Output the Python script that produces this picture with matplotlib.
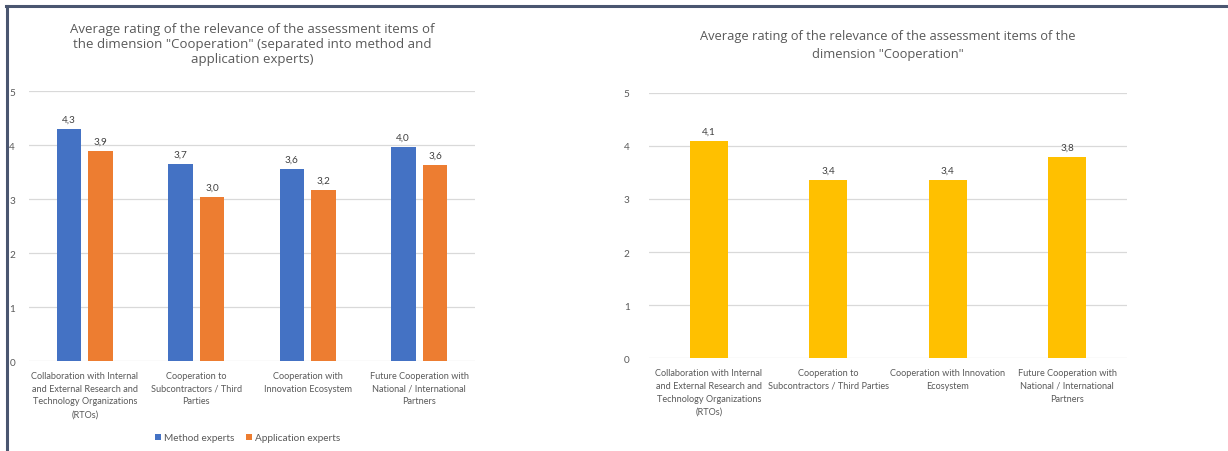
import matplotlib

matplotlib.use("Agg")
import matplotlib.pyplot as plt
import numpy as np
from matplotlib.lines import Line2D

plt.rcParams["font.family"] = ["Lato", "DejaVu Sans"]

# left chart data
left_title = ('Average rating of the relevance of the assessment items of\n'
              'the dimension "Cooperation" (separated into method and\n'
              'application experts)')
left_categories = [
    "Collaboration with Internal\nand External Research and\nTechnology Organizations\n(RTOs)",
    "Cooperation to\nSubcontractors / Third\nParties",
    "Cooperation with\nInnovation Ecosystem",
    "Future Cooperation with\nNational / International\nPartners",
]
method_experts = [4.30, 3.65, 3.56, 3.96]
application_experts = [3.89, 3.04, 3.17, 3.63]
method_labels = ["4,3", "3,7", "3,6", "4,0"]
application_labels = ["3,9", "3,0", "3,2", "3,6"]

# right chart data
right_title = ('Average rating of the relevance of the assessment items of the\n'
               'dimension "Cooperation"')
right_categories = [
    "Collaboration with Internal\nand External Research and\nTechnology Organizations\n(RTOs)",
    "Cooperation to\nSubcontractors / Third Parties",
    "Cooperation with Innovation\nEcosystem",
    "Future Cooperation with\nNational / International\nPartners",
]
overall = [4.09, 3.36, 3.36, 3.79]
overall_labels = ["4,1", "3,4", "3,4", "3,8"]

y_ticks = [0, 1, 2, 3, 4, 5]

BLUE = "#4472C4"
ORANGE = "#ED7D31"
YELLOW = "#FFC000"
GRID = "#D9D9D9"
TEXT = "#595959"
LABEL = "#404040"
TICK_FS = 6.6
TITLE_FONT = ["Open Sans", "DejaVu Sans"]


def _style_axes(ax, ypad):
    ax.set_ylim(0, 5)
    ax.set_xlim(-0.5, 3.5)
    ax.set_yticks(y_ticks)
    ax.yaxis.grid(True, color=GRID, linewidth=0.9)
    ax.set_axisbelow(True)
    for side in ("top", "right", "left", "bottom"):
        ax.spines[side].set_visible(False)
    ax.tick_params(axis="y", length=0, pad=ypad, labelsize=7.2, labelcolor=TEXT)
    ax.tick_params(axis="x", length=0, pad=7, labelsize=TICK_FS, labelcolor=TEXT)


def _bar_labels(ax, bars, labels):
    for b, text in zip(bars, labels):
        ax.annotate(text, (b.get_x() + b.get_width() / 2, b.get_height()),
                    xytext=(0, 4), textcoords="offset points",
                    ha="center", va="bottom", fontsize=7.2, color=LABEL)


fig = plt.figure(figsize=(12.28, 4.52), dpi=100)

# left: grouped bars
ax1 = fig.add_axes([0.0236, 0.1991, 0.3632, 0.5973])
_style_axes(ax1, ypad=10)
x = np.arange(len(left_categories))
w = 0.22
b1 = ax1.bar(x - 0.143, method_experts, w, color=BLUE, label="Method experts")
b2 = ax1.bar(x + 0.143, application_experts, w, color=ORANGE, label="Application experts")
_bar_labels(ax1, b1, method_labels)
_bar_labels(ax1, b2, application_labels)
ax1.set_xticks(x)
ax1.set_xticklabels(left_categories, linespacing=1.55)
ax1.set_title(left_title, fontsize=9.5, color=TEXT, linespacing=1.2, pad=21,
              family=TITLE_FONT)
ax1.legend(loc="center", bbox_to_anchor=(0.49, -0.285), ncol=2, frameon=False,
           fontsize=7.2, labelcolor=TEXT, handlelength=0.6, handleheight=0.6,
           handletextpad=0.3, columnspacing=1.2)

# right: single series
ax2 = fig.add_axes([0.5285, 0.2051, 0.3893, 0.5874])
_style_axes(ax2, ypad=14)
x2 = np.arange(len(right_categories))
b3 = ax2.bar(x2, overall, 0.32, color=YELLOW)
_bar_labels(ax2, b3, overall_labels)
ax2.set_xticks(x2)
ax2.set_xticklabels(right_categories, linespacing=1.55)
ax2.set_title(right_title, fontsize=9.3, color=TEXT, linespacing=1.45, pad=26,
              family=TITLE_FONT)

# frame lines on top and left edge
frame = "#4A5670"
fig.add_artist(Line2D([0.005, 1.0], [1 - 6.5 / 452, 1 - 6.5 / 452],
                      transform=fig.transFigure, color=frame, linewidth=2.2))
fig.add_artist(Line2D([6.5 / 1228, 6.5 / 1228], [0.0, 1 - 6.5 / 452],
                      transform=fig.transFigure, color=frame, linewidth=2.2))

fig.savefig("out.png", dpi=100)
